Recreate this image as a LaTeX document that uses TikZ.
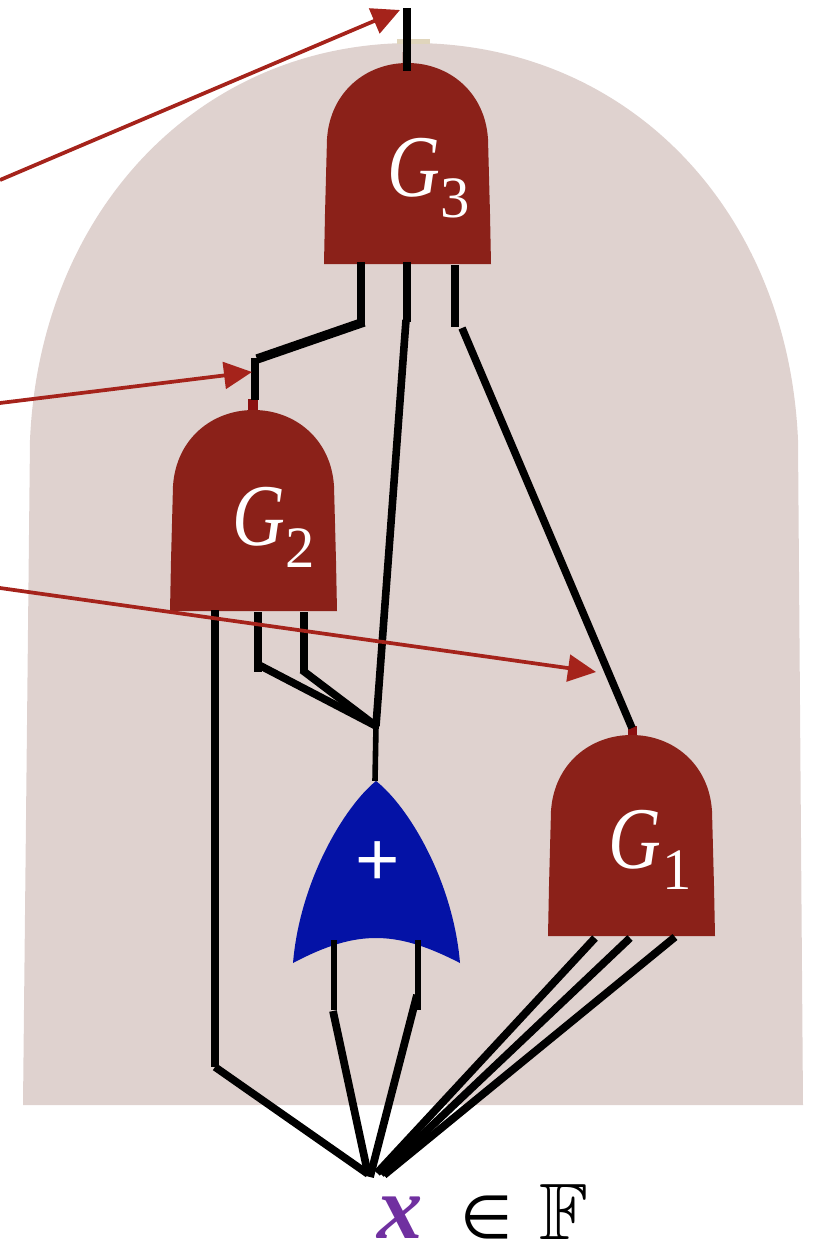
\documentclass[tikz,border=0pt]{standalone}
\usepackage{amsmath,amssymb}
\usepackage{graphicx}
\usepackage{fontspec}
\setmainfont{Liberation Serif}
\newfontfamily\plusfont{Liberation Sans}
\newfontfamily\symfont{DejaVu Sans}
\usetikzlibrary{arrows.meta}
\definecolor{bgc}{HTML}{DFD2CF}
\definecolor{gatec}{HTML}{8B2119}
\definecolor{orc}{HTML}{0412A6}
\definecolor{arrc}{HTML}{A5231B}
\definecolor{purp}{HTML}{7030A0}
\definecolor{stubc}{HTML}{8B1010}
\definecolor{beige}{HTML}{E0D5BC}
\definecolor{pinkc}{HTML}{C9A8A5}
\newcommand{\gletter}{\scalebox{0.83}[1]{G}}
\tikzset{
  wire/.style={draw=black,line width=5.7pt,line cap=butt,line join=miter},
  slantwire/.style={draw=black,line width=5.8pt,line cap=butt},
  thinwire/.style={draw=black,line width=4.2pt,line cap=butt},
  callout/.style={draw=arrc,line width=2.8pt,-{Triangle[length=21pt,width=20pt,fill=arrc]}},
  gatebody/.style={fill=gatec},
  gatetext/.style={text=white,inner sep=0pt,font=\fontsize{66}{66}\selectfont\itshape},
  gatesub/.style={text=white,inner sep=0pt,font=\fontsize{44}{44}\selectfont},
  gatepic/.pic={
    \path[gatebody] (0,0) -- (1,-50) -- (3,-125) .. controls (6,-172) and (42,-201) .. (83.5,-201)
      .. controls (125,-201) and (161,-172) .. (164,-125) -- (166,-50) -- (167,0) -- cycle;
  }
}
\begin{document}
\begin{tikzpicture}[x=0.75pt,y=-0.75pt]
\useasboundingbox (0,0) rectangle (818,1243);
% background
\fill[bgc] (23,1105) -- (30,440) .. controls (40,210) and (200,43) .. (412,43)
  .. controls (628,43) and (788,210) .. (798,440) -- (803,1105) -- cycle;
\fill[beige] (397,39) rectangle (430,44);
\fill[pinkc] (402,52) rectangle (408,63);
\fill[stubc] (248,399) rectangle (258,411);
\fill[stubc] (628,726) rectangle (637,736);
% gates
\pic at (324,264) {gatepic};
\pic at (170,611) {gatepic};
\pic at (548,936) {gatepic};
\path[fill=orc] (376,781) .. controls (408,806) and (453,880) .. (460,963)
  .. controls (425,945) and (400,938) .. (376,938)
  .. controls (352,938) and (327,945) .. (293,963)
  .. controls (300,880) and (345,806) .. (376,781) -- cycle;
% labels
\node[gatetext] (gthree) at (413.5,168) {\gletter};
\node[gatesub] (sthree) at (455,198) {3};
\node[gatetext] (gtwo) at (259,517) {\gletter};
\node[gatesub] (stwo) at (300.5,548) {2};
\node[gatetext] (gone) at (635,840) {\gletter};
\node[gatesub] (sone) at (677,870) {1};
\node[text=white,inner sep=0pt,font=\fontsize{57}{57}\plusfont] (plus) at (378,864) {+};
\node[text=purp,inner sep=0pt,anchor=base,font=\fontsize{68}{68}\selectfont\bfseries\itshape] (xvar) at (400,1238) {x};
\node[inner sep=0pt,anchor=base,font=\fontsize{45}{45}\symfont] (elem) at (487,1238) {∈};
\node[inner sep=0pt,anchor=base] (field) at (564,1239) {\fontsize{60}{60}\selectfont$\mathbb{F}$};
% junctions
\coordinate (o3a) at (407,8);
\coordinate (o3b) at (407,71);
\coordinate (i3a) at (361,262);
\coordinate (j3a) at (361,324);
\coordinate (k3a) at (364,322);
\coordinate (k3b) at (257,359);
\coordinate (o2a) at (255,358);
\coordinate (o2b) at (255,400);
\coordinate (i3b) at (407,262);
\coordinate (j3b) at (407,322);
\coordinate (k3c) at (406,320);
\coordinate (m) at (376,726);
\coordinate (i3c) at (455,265);
\coordinate (j3c) at (455,327);
\coordinate (k3d) at (462,328);
\coordinate (o1) at (632,728);
\coordinate (i2a) at (215,610);
\coordinate (j2a) at (215,1067);
\coordinate (x1) at (368,1174);
\coordinate (i2b) at (258,612);
\coordinate (j2b) at (258,672);
\coordinate (i2c) at (304,612);
\coordinate (j2c) at (304,673);
\coordinate (k2b) at (259,665);
\coordinate (k2c) at (302,670);
\coordinate (orout) at (375,781);
\coordinate (ora) at (334,940);
\coordinate (jora) at (334,1010);
\coordinate (orb) at (418,940);
\coordinate (jorb) at (418,1010);
\coordinate (kora) at (333,1011);
\coordinate (korb) at (417,995);
\coordinate (x2) at (370,1177);
\coordinate (ga) at (595,938);
\coordinate (gb) at (630,938);
\coordinate (gc) at (675,937);
\coordinate (xa) at (377,1173);
\coordinate (xb) at (381,1174);
\coordinate (xc) at (384,1175);
% wires
\draw[wire,line width=6pt] (o3a) -- (o3b);
\draw[wire] (i3a) -- (j3a);
\draw[slantwire,line width=7pt] (k3a) -- (k3b);
\draw[wire] (o2a) -- (o2b);
\draw[wire] (i3b) -- (j3b);
\draw[wire] (k3c) -- (m);
\draw[wire] (i3c) -- (j3c);
\draw[wire] (k3d) -- (o1);
\draw[wire] (i2a) -- (j2a);
\draw[wire] (j2a) -- (x1);
\draw[wire] (i2b) -- (j2b);
\draw[wire] (i2c) -- (j2c);
\draw[wire] (k2b) -- (m);
\draw[wire] (k2c) -- (m);
\draw[thinwire] (m) -- (orout);
\draw[thinwire] (ora) -- (jora);
\draw[thinwire] (orb) -- (jorb);
\draw[slantwire] (kora) -- (x1);
\draw[slantwire] (korb) -- (x2);
\draw[slantwire] (ga) -- (xa);
\draw[slantwire] (gb) -- (xb);
\draw[slantwire] (gc) -- (xc);
% callouts
\coordinate (c1s) at (0,180);
\coordinate (c1e) at (400,10);
\coordinate (c2s) at (0,403);
\coordinate (c2e) at (252,372);
\coordinate (c3s) at (0,588);
\coordinate (c3e) at (596,672);
\draw[callout] (c1s) -- (c1e);
\draw[callout] (c2s) -- (c2e);
\draw[callout] (c3s) -- (c3e);
\end{tikzpicture}
\end{document}
